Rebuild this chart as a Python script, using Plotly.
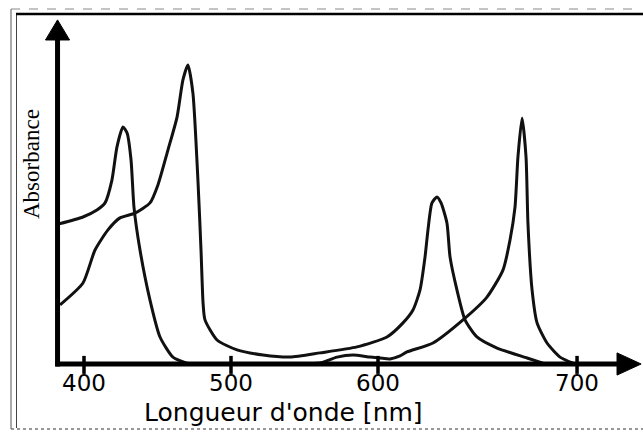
import plotly.graph_objects as go

# Chlorophyll a (x in the drawing's linear wavelength units, y = relative absorbance)
chla_x = [383.0, 399.3, 408.8, 414.3, 419.0, 422.4, 426.5, 429.3, 432.0, 434.0, 438.1,
          444.9, 451.7, 460.5, 470.1, 478.9, 512.9, 546.9, 560.5, 572.1, 583.0, 594.6,
          601.4, 608.2, 615.0, 619.7, 637.4, 657.8, 674.1, 685.0, 689.8, 693.2, 695.2,
          698.0, 700.7, 702.0, 704.8, 708.2, 715.0, 723.8, 732.7]
chla_y = [0.467, 0.490, 0.513, 0.537, 0.613, 0.723, 0.790, 0.770, 0.680, 0.523, 0.380,
          0.213, 0.090, 0.023, 0.003, 0.0, 0.0, 0.0, 0.003, 0.023, 0.030, 0.023,
          0.020, 0.017, 0.027, 0.040, 0.070, 0.147, 0.223, 0.313, 0.413, 0.523, 0.690,
          0.820, 0.690, 0.470, 0.247, 0.137, 0.070, 0.023, 0.003]

# Chlorophyll b
chlb_x = [383.7, 399.3, 407.5, 416.3, 424.5, 434.7, 444.9, 450.3, 457.1, 463.3, 467.3, 470.7,
          474.1, 477.6, 479.6, 481.0, 482.3, 490.5, 504.1, 521.8, 540.1, 560.5, 585.7,
          606.1, 617.0, 623.8, 628.6, 632.0, 634.0, 636.7, 640.1, 642.9, 646.9, 649.0,
          653.7, 659.2, 667.3, 681.0, 701.4, 712.2]
chlb_y = [0.197, 0.270, 0.380, 0.447, 0.487, 0.503, 0.537, 0.597, 0.713, 0.823, 0.947, 0.997,
          0.903, 0.603, 0.380, 0.203, 0.147, 0.080, 0.047, 0.030, 0.023, 0.037, 0.057,
          0.090, 0.137, 0.180, 0.247, 0.357, 0.447, 0.537, 0.557, 0.537, 0.470, 0.357,
          0.247, 0.147, 0.090, 0.053, 0.020, 0.003]

tick_pos = [400, 500, 600, 735.4]
tick_text = ["400", "500", "600", "700"]

X_RANGE = [342.86, 780.27]
Y_RANGE = [-0.2267, 1.2133]

fig = go.Figure()
for xs, ys in [(chla_x, chla_y), (chlb_x, chlb_y)]:
    fig.add_trace(go.Scatter(x=xs, y=ys, mode="lines",
                             line=dict(color="#111111", width=3, shape="spline", smoothing=0.6),
                             hoverinfo="skip", showlegend=False))

shapes = []
ax_x0 = 382.0
# x axis line + arrow
shapes.append(dict(type="line", xref="x", yref="y", x0=ax_x0 - 1.5, y0=0, x1=764, y1=0,
                   line=dict(color="black", width=5)))
shapes.append(dict(type="path", xref="x", yref="y",
                   path="M 762.6,0.037 L 779.0,0 L 762.6,-0.037 Z",
                   fillcolor="black", line=dict(color="black", width=1)))
# y axis line + arrow
shapes.append(dict(type="line", xref="x", yref="y", x0=ax_x0, y0=-0.008, x1=ax_x0, y1=1.085,
                   line=dict(color="black", width=5)))
shapes.append(dict(type="path", xref="x", yref="y",
                   path="M %.2f,1.080 L %.2f,1.147 L %.2f,1.080 Z" % (ax_x0 - 8.2, ax_x0, ax_x0 + 8.2),
                   fillcolor="black", line=dict(color="black", width=1)))
# tick marks
for t in tick_pos:
    shapes.append(dict(type="line", xref="x", yref="y", x0=t, y0=0.027, x1=t, y1=-0.033,
                       line=dict(color="black", width=3.5)))
# frame
shapes.append(dict(type="line", xref="paper", yref="paper", x0=11 / 643, y0=1 - 9 / 432,
                   x1=11 / 643, y1=1 - 429 / 432, line=dict(color="#555555", width=1)))
shapes.append(dict(type="line", xref="paper", yref="paper", x0=16.5 / 643, y0=1 - 14 / 432,
                   x1=16.5 / 643, y1=1 - 428 / 432, line=dict(color="#444444", width=1)))
shapes.append(dict(type="line", xref="paper", yref="paper", x0=16 / 643, y0=1 - 14 / 432,
                   x1=1, y1=1 - 14 / 432, line=dict(color="black", width=2.5)))
shapes.append(dict(type="line", xref="paper", yref="paper", x0=11 / 643, y0=1 - 9 / 432,
                   x1=640 / 643, y1=1 - 9 / 432, line=dict(color="#888888", width=1, dash="dash")))
shapes.append(dict(type="line", xref="paper", yref="paper", x0=11 / 643, y0=1 - 429 / 432,
                   x1=1, y1=1 - 429 / 432, line=dict(color="#777777", width=1.5, dash="dot")))

annotations = []
for t, s in zip(tick_pos, tick_text):
    annotations.append(dict(x=t, y=-0.065, xref="x", yref="y", text=s, showarrow=False,
                            xanchor="center", yanchor="middle",
                            font=dict(family="DejaVu Sans", size=23, color="black")))
annotations.append(dict(x=283 / 643, y=1 - 412 / 432, xref="paper", yref="paper",
                        text="Longueur d'onde [nm]", showarrow=False,
                        xanchor="center", yanchor="middle",
                        font=dict(family="DejaVu Sans", size=25, color="black")))
annotations.append(dict(x=31 / 643, y=1 - 164 / 432, xref="paper", yref="paper",
                        text="Absorbance", showarrow=False, textangle=-90,
                        xanchor="center", yanchor="middle",
                        font=dict(family="Liberation Serif", size=23, color="black")))

fig.update_layout(
    width=643, height=432,
    margin=dict(l=0, r=0, t=0, b=0),
    paper_bgcolor="white", plot_bgcolor="white",
    xaxis=dict(range=X_RANGE, visible=False, fixedrange=True),
    yaxis=dict(range=Y_RANGE, visible=False, fixedrange=True),
    shapes=shapes, annotations=annotations,
)

fig.write_html("out.html")
